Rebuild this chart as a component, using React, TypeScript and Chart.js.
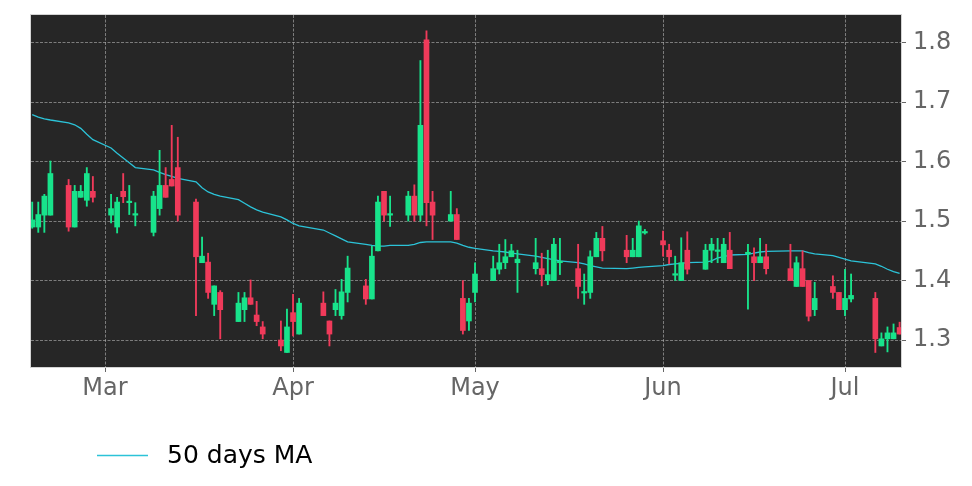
import React, { useEffect, useRef } from "react";
import { Chart, registerables } from "chart.js";

Chart.register(...registerables);

const dates = [
  "2026-02-17", "2026-02-18", "2026-02-19", "2026-02-20",
  "2026-02-23", "2026-02-24", "2026-02-25", "2026-02-26", "2026-02-27",
  "2026-03-02", "2026-03-03", "2026-03-04", "2026-03-05", "2026-03-06",
  "2026-03-09", "2026-03-10", "2026-03-11", "2026-03-12", "2026-03-13",
  "2026-03-16", "2026-03-17", "2026-03-18", "2026-03-19", "2026-03-20",
  "2026-03-23", "2026-03-24", "2026-03-25", "2026-03-26", "2026-03-27",
  "2026-03-30", "2026-03-31", "2026-04-01", "2026-04-02",
  "2026-04-06", "2026-04-07", "2026-04-08", "2026-04-09", "2026-04-10",
  "2026-04-13", "2026-04-14", "2026-04-15", "2026-04-16", "2026-04-17",
  "2026-04-20", "2026-04-21", "2026-04-22", "2026-04-23", "2026-04-24",
  "2026-04-27", "2026-04-28", "2026-04-29", "2026-04-30", "2026-05-01",
  "2026-05-04", "2026-05-05", "2026-05-06", "2026-05-07", "2026-05-08",
  "2026-05-11", "2026-05-12", "2026-05-13", "2026-05-14", "2026-05-15",
  "2026-05-18", "2026-05-19", "2026-05-20", "2026-05-21", "2026-05-22",
  "2026-05-26", "2026-05-27", "2026-05-28", "2026-05-29",
  "2026-06-01", "2026-06-02", "2026-06-03", "2026-06-04", "2026-06-05",
  "2026-06-08", "2026-06-09", "2026-06-10", "2026-06-11", "2026-06-12",
  "2026-06-15", "2026-06-16", "2026-06-17", "2026-06-18",
  "2026-06-22", "2026-06-23", "2026-06-24", "2026-06-25", "2026-06-26",
  "2026-06-29", "2026-06-30", "2026-07-01", "2026-07-02",
  "2026-07-06", "2026-07-07", "2026-07-08", "2026-07-09", "2026-07-10",
];

const open = [
  1.490, 1.490, 1.510, 1.510,
  1.560, 1.490, 1.540, 1.535, 1.550,
  1.510, 1.490, 1.550, 1.531, 1.510,
  1.481, 1.521, 1.560, 1.570, 1.590,
  1.532, 1.430, 1.431, 1.360, 1.380,
  1.331, 1.351, 1.371, 1.342, 1.322,
  1.300, 1.279, 1.346, 1.310,
  1.362, 1.332, 1.351, 1.341, 1.380,
  1.391, 1.369, 1.450, 1.550, 1.510,
  1.510, 1.542, 1.510, 1.805, 1.532,
  1.500, 1.511, 1.370, 1.332, 1.380,
  1.400, 1.419, 1.430, 1.440, 1.430,
  1.420, 1.420, 1.400, 1.400, 1.430,
  1.420, 1.379, 1.380, 1.440, 1.471,
  1.451, 1.440, 1.440, 1.480,
  1.467, 1.451, 1.409, 1.400, 1.451,
  1.419, 1.451, 1.449, 1.430, 1.451,
  1.445, 1.440, 1.430, 1.440,
  1.420, 1.390, 1.420, 1.400, 1.351,
  1.390, 1.380, 1.351, 1.369,
  1.370, 1.290, 1.302, 1.302, 1.321,
];

const high = [
  1.532, 1.532, 1.545, 1.601,
  1.570, 1.560, 1.560, 1.590, 1.575,
  1.545, 1.540, 1.580, 1.560, 1.531,
  1.550, 1.619, 1.590, 1.661, 1.641,
  1.537, 1.473, 1.446, 1.391, 1.383,
  1.380, 1.380, 1.401, 1.365, 1.331,
  1.332, 1.352, 1.377, 1.370,
  1.381, 1.332, 1.385, 1.402, 1.441,
  1.402, 1.458, 1.542, 1.550, 1.542,
  1.550, 1.561, 1.770, 1.820, 1.550,
  1.550, 1.521, 1.400, 1.370, 1.430,
  1.441, 1.461, 1.469, 1.461, 1.451,
  1.471, 1.446, 1.451, 1.471, 1.471,
  1.461, 1.411, 1.450, 1.481, 1.491,
  1.476, 1.471, 1.500, 1.486,
  1.483, 1.461, 1.441, 1.472, 1.482,
  1.461, 1.471, 1.471, 1.471, 1.481,
  1.461, 1.455, 1.471, 1.461,
  1.461, 1.440, 1.450, 1.400, 1.397,
  1.408, 1.380, 1.419, 1.411,
  1.380, 1.312, 1.322, 1.327, 1.330,
];

const low = [
  1.488, 1.481, 1.481, 1.510,
  1.483, 1.490, 1.540, 1.525, 1.532,
  1.497, 1.480, 1.531, 1.511, 1.492,
  1.475, 1.510, 1.540, 1.559, 1.500,
  1.341, 1.430, 1.370, 1.341, 1.302,
  1.331, 1.331, 1.360, 1.324, 1.302,
  1.282, 1.279, 1.307, 1.310,
  1.341, 1.290, 1.341, 1.335, 1.364,
  1.360, 1.369, 1.450, 1.500, 1.491,
  1.500, 1.500, 1.500, 1.492, 1.469,
  1.500, 1.469, 1.310, 1.316, 1.364,
  1.400, 1.411, 1.420, 1.440, 1.380,
  1.411, 1.391, 1.393, 1.400, 1.410,
  1.370, 1.360, 1.370, 1.440, 1.433,
  1.430, 1.440, 1.440, 1.478,
  1.441, 1.428, 1.400, 1.400, 1.411,
  1.419, 1.430, 1.430, 1.430, 1.420,
  1.352, 1.400, 1.430, 1.411,
  1.400, 1.390, 1.390, 1.332, 1.341,
  1.370, 1.351, 1.341, 1.364,
  1.279, 1.290, 1.280, 1.302, 1.310,
];

const close = [
  1.502, 1.511, 1.542, 1.580,
  1.490, 1.550, 1.550, 1.580, 1.540,
  1.521, 1.532, 1.541, 1.532, 1.511,
  1.542, 1.560, 1.540, 1.559, 1.510,
  1.440, 1.441, 1.380, 1.391, 1.351,
  1.362, 1.371, 1.360, 1.331, 1.310,
  1.290, 1.322, 1.331, 1.362,
  1.341, 1.310, 1.362, 1.381, 1.421,
  1.369, 1.441, 1.532, 1.510, 1.511,
  1.542, 1.510, 1.661, 1.531, 1.510,
  1.511, 1.469, 1.316, 1.362, 1.411,
  1.420, 1.430, 1.440, 1.450, 1.436,
  1.430, 1.410, 1.410, 1.461, 1.431,
  1.390, 1.380, 1.440, 1.471, 1.450,
  1.440, 1.451, 1.492, 1.481,
  1.460, 1.440, 1.411, 1.430, 1.419,
  1.451, 1.461, 1.451, 1.461, 1.420,
  1.446, 1.430, 1.440, 1.420,
  1.400, 1.430, 1.390, 1.340, 1.370,
  1.380, 1.351, 1.370, 1.375,
  1.302, 1.302, 1.312, 1.312, 1.310,
];

const ma50 = [
  1.679, 1.675, 1.672, 1.670,
  1.665, 1.662, 1.656, 1.646, 1.637,
  1.623, 1.614, 1.606, 1.598, 1.590,
  1.586, 1.582, 1.578, 1.575, 1.572,
  1.566, 1.556, 1.549, 1.545, 1.542,
  1.536, 1.530, 1.524, 1.519, 1.515,
  1.507, 1.502, 1.496, 1.492,
  1.485, 1.480, 1.475, 1.470, 1.465,
  1.461, 1.459, 1.458, 1.458, 1.459,
  1.459, 1.461, 1.464, 1.465, 1.465,
  1.465, 1.463, 1.459, 1.456, 1.454,
  1.450, 1.449, 1.448, 1.446, 1.445,
  1.441, 1.439, 1.437, 1.435, 1.433,
  1.430, 1.428, 1.425, 1.423, 1.421,
  1.420, 1.421, 1.422, 1.423,
  1.425, 1.427, 1.428, 1.429, 1.430,
  1.431, 1.433, 1.438, 1.440, 1.443,
  1.444, 1.446, 1.448, 1.449,
  1.450, 1.450, 1.450, 1.447, 1.445,
  1.442, 1.439, 1.436, 1.433,
  1.428, 1.424, 1.419, 1.415, 1.412,
];

const monthTickDates = ["2026-03-01", "2026-04-01", "2026-05-01", "2026-06-01", "2026-07-01"];
const monthTickLabels = ["Mar", "Apr", "May", "Jun", "Jul"];
const yTickValues = [1.3, 1.4, 1.5, 1.6, 1.7, 1.8];
const legendLabel = "50 days MA";

const UP = "#18e38b";
const DOWN = "#f03a5a";
const MA_COLOR = "#2cc3d8";
const FONT = "'DejaVu Sans', sans-serif";

const DAY_MS = 86400000;
const BASE = Date.UTC(2026, 0, 1);
const toDay = (s: string) => {
  const [y, m, d] = s.split("-").map(Number);
  return (Date.UTC(y, m - 1, d) - BASE) / DAY_MS;
};

export default function App() {
  const ref = useRef<HTMLCanvasElement | null>(null);

  useEffect(() => {
    const canvas = ref.current;
    if (!canvas) return;
    const xs = dates.map(toDay);
    const colors = dates.map((_, i) => (close[i] >= open[i] ? UP : DOWN));
    const wickData = dates.map((_, i) => ({ x: xs[i], y: [low[i], high[i]] }));
    const bodyData = dates.map((_, i) => ({
      x: xs[i],
      y: [Math.min(open[i], close[i]), Math.max(open[i], close[i])],
    }));
    const maData = dates.map((_, i) => ({ x: xs[i], y: ma50[i] }));
    const monthVals = monthTickDates.map(toDay);

    const framePlugin = {
      id: "frame",
      beforeDraw(chart: any) {
        const { ctx, chartArea: a } = chart;
        ctx.save();
        ctx.fillStyle = "#ffffff";
        ctx.fillRect(0, 0, chart.width, chart.height);
        ctx.fillStyle = "#262626";
        ctx.fillRect(a.left, a.top, a.right - a.left, a.bottom - a.top);
        ctx.restore();
      },
      afterDraw(chart: any) {
        const { ctx, chartArea: a } = chart;
        ctx.save();
        ctx.strokeStyle = "#d4d4d4";
        ctx.lineWidth = 1;
        ctx.strokeRect(a.left - 0.5, a.top - 0.5, a.right - a.left + 1, a.bottom - a.top + 1);
        // legend
        ctx.strokeStyle = MA_COLOR;
        ctx.lineWidth = 1.3;
        ctx.beginPath();
        ctx.moveTo(97, 455.5);
        ctx.lineTo(148, 455.5);
        ctx.stroke();
        ctx.fillStyle = "#000000";
        ctx.font = `25px ${FONT}`;
        ctx.textBaseline = "alphabetic";
        ctx.textAlign = "left";
        ctx.fillText(legendLabel, 167, 463);
        ctx.restore();
      },
    };

    const gridOpts = {
      color: "rgba(175,175,175,0.8)",
      lineWidth: 0.8,
      offset: false,
      drawTicks: true,
      tickLength: 5,
      tickColor: "#666666",
      tickWidth: 1,
      tickBorderDash: [],
    };

    const chart = new Chart(canvas, {
      type: "bar",
      data: {
        datasets: [
          {
            type: "line",
            label: legendLabel,
            data: maData,
            borderColor: MA_COLOR,
            borderWidth: 1.3,
            pointRadius: 0,
            tension: 0,
            order: 3,
          } as any,
          {
            label: "wick",
            data: wickData as any,
            backgroundColor: colors,
            borderWidth: 0,
            barThickness: 1.2,
            grouped: false,
            order: 2,
          },
          {
            label: "body",
            data: bodyData as any,
            backgroundColor: colors,
            borderWidth: 0,
            barThickness: 5,
            minBarLength: 1.5,
            grouped: false,
            order: 1,
          },
        ],
      },
      options: {
        animation: false,
        responsive: false,
        maintainAspectRatio: false,
        events: [],
        layout: { padding: { left: 31, top: 15, right: 0, bottom: 0 } },
        plugins: {
          legend: { display: false },
          tooltip: { enabled: false },
        },
        scales: {
          x: {
            type: "linear",
            offset: false,
            min: xs[0] - 0.2,
            max: xs[xs.length - 1] + 0.23,
            afterBuildTicks: (scale: any) => {
              scale.ticks = monthVals.map((v) => ({ value: v }));
            },
            afterFit: (scale: any) => {
              scale.height = 119;
              scale.paddingLeft = 0;
              scale.paddingRight = 0;
            },
            ticks: {
              autoSkip: false,
              maxRotation: 0,
              padding: 2,
              color: "#666666",
              font: { family: FONT, size: 24 },
              callback: (v: any) => {
                const idx = monthVals.indexOf(Number(v));
                return idx >= 0 ? monthTickLabels[idx] : "";
              },
            },
            grid: gridOpts as any,
            border: { display: false, dash: [3, 1.5] },
          },
          y: {
            type: "linear",
            position: "right",
            min: 1.2546,
            max: 1.8466,
            afterBuildTicks: (scale: any) => {
              scale.ticks = yTickValues.map((v) => ({ value: v }));
            },
            afterFit: (scale: any) => {
              scale.width = 71;
              scale.paddingTop = 0;
              scale.paddingBottom = 0;
            },
            ticks: {
              padding: 7,
              color: "#666666",
              font: { family: FONT, size: 24 },
              callback: (v: any) => Number(v).toFixed(1),
            },
            grid: gridOpts as any,
            border: { display: false, dash: [3, 1.5] },
          },
        },
      },
      plugins: [framePlugin],
    } as any);

    return () => chart.destroy();
  }, []);

  return (
    <div style={{ position: "absolute", left: 0, top: 0, width: 972, height: 486, background: "#ffffff" }}>
      <canvas ref={ref} width={972} height={486} style={{ display: "block", width: 972, height: 486 }} />
    </div>
  );
}
